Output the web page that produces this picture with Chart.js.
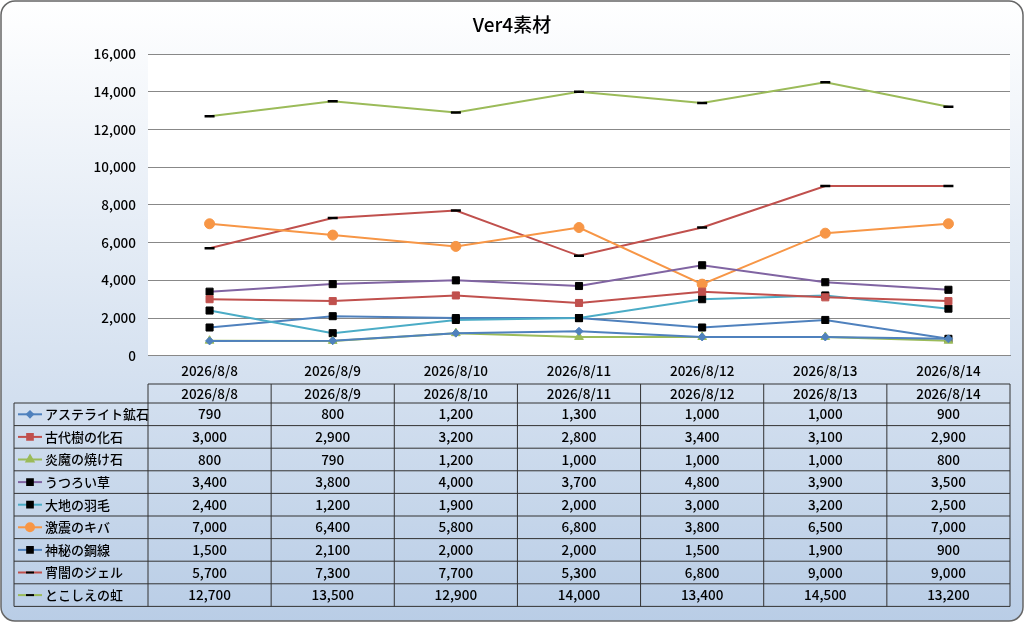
<!DOCTYPE html>
<html><head><meta charset="utf-8">
<script src="https://cdn.jsdelivr.net/npm/chart.js@4/dist/chart.umd.min.js"></script>
<style>body{margin:0;background:#fff}canvas{display:block}</style>
</head><body>
<canvas id="c" width="1024" height="622"></canvas>
<script>
const labels = ['2026/8/8', '2026/8/9', '2026/8/10', '2026/8/11', '2026/8/12', '2026/8/13', '2026/8/14'];
const names = ['アステライト鉱石', '古代樹の化石', '炎魔の焼け石', 'うつろい草', '大地の羽毛', '激震のキバ', '神秘の鋼線', '宵闇のジェル', 'とこしえの虹'];
const astelite = [790, 800, 1200, 1300, 1000, 1000, 900];
const fossil = [3000, 2900, 3200, 2800, 3400, 3100, 2900];
const burnt = [800, 790, 1200, 1000, 1000, 1000, 800];
const utsuroi = [3400, 3800, 4000, 3700, 4800, 3900, 3500];
const feather = [2400, 1200, 1900, 2000, 3000, 3200, 2500];
const fang = [7000, 6400, 5800, 6800, 3800, 6500, 7000];
const wire = [1500, 2100, 2000, 2000, 1500, 1900, 900];
const gel = [5700, 7300, 7700, 5300, 6800, 9000, 9000];
const rainbow = [12700, 13500, 12900, 14000, 13400, 14500, 13200];
const yTicks = [0, 2000, 4000, 6000, 8000, 10000, 12000, 14000, 16000];

const FONT = '"Noto Sans CJK JP", "Noto Sans", sans-serif';
const values = [astelite, fossil, burnt, utsuroi, feather, fang, wire, gel, rainbow];
const styles = [
  { color: '#4f81bd', point: 'rectRot', pc: '#4f81bd', r: 4 },
  { color: '#c0504d', point: 'rect', pc: '#c0504d', r: 5 },
  { color: '#9bbb59', point: 'triangle', pc: '#9bbb59', r: 5 },
  { color: '#8064a2', point: 'rect', pc: '#000', r: 5 },
  { color: '#4bacc6', point: 'rect', pc: '#000', r: 5 },
  { color: '#f79646', point: 'circle', pc: '#f79646', r: 5 },
  { color: '#4f81bd', point: 'rect', pc: '#000', r: 5 },
  { color: '#c0504d', point: 'line', pc: '#000', r: 5 },
  { color: '#9bbb59', point: 'line', pc: '#000', r: 5 }
];

const datasets = names.map((n, i) => ({
  label: n,
  data: values[i],
  borderColor: styles[i].color,
  borderWidth: 2,
  pointStyle: styles[i].point,
  pointRadius: styles[i].r,
  pointBackgroundColor: styles[i].pc,
  pointBorderColor: styles[i].pc,
  pointBorderWidth: styles[i].point === 'line' ? 2.5 : 1,
  tension: 0
}));

const frame = {
  id: 'frame',
  beforeDraw(chart) {
    const ctx = chart.ctx, a = chart.chartArea;
    ctx.save();
    const g = ctx.createLinearGradient(0, 0, 0, 622);
    g.addColorStop(0, '#ffffff');
    g.addColorStop(1, '#b9cde6');
    ctx.beginPath();
    ctx.roundRect(1, 1, 1022, 620, 14);
    ctx.fillStyle = g;
    ctx.fill();
    ctx.strokeStyle = '#666';
    ctx.lineWidth = 1.5;
    ctx.stroke();
    ctx.fillStyle = '#fff';
    ctx.fillRect(a.left, a.top, a.right - a.left, a.bottom - a.top);
    ctx.fillStyle = '#000';
    ctx.font = '500 19px ' + FONT;
    ctx.textAlign = 'center';
    ctx.textBaseline = 'middle';
    ctx.fillText('Ver4素材', 512, 25);
    ctx.restore();
  },
  afterDraw(chart) {
    const ctx = chart.ctx, x = chart.scales.x;
    const left = 14, colL = x.left, right = x.right;
    const colW = (right - colL) / labels.length;
    const headTop = 384, top = 403, rowH = 22.6;
    const bottom = top + rowH * names.length;
    ctx.save();
    ctx.strokeStyle = '#333';
    ctx.lineWidth = 1;
    ctx.beginPath();
    ctx.moveTo(colL, headTop); ctx.lineTo(right, headTop);
    for (let i = 0; i <= names.length; i++) {
      ctx.moveTo(left, top + i * rowH);
      ctx.lineTo(right, top + i * rowH);
    }
    ctx.moveTo(left, top); ctx.lineTo(left, bottom);
    for (let j = 0; j <= labels.length; j++) {
      const cx = colL + j * colW;
      ctx.moveTo(cx, headTop); ctx.lineTo(cx, bottom);
    }
    ctx.stroke();
    ctx.fillStyle = '#000';
    ctx.font = '500 13.5px ' + FONT;
    ctx.textAlign = 'center';
    ctx.textBaseline = 'middle';
    labels.forEach((l, j) => ctx.fillText(l, colL + (j + 0.5) * colW, headTop + 10));
    names.forEach((n, i) => {
      const cy = top + (i + 0.5) * rowH;
      const s = styles[i];
      ctx.strokeStyle = s.color;
      ctx.lineWidth = 2;
      ctx.beginPath(); ctx.moveTo(18, cy); ctx.lineTo(42, cy); ctx.stroke();
      ctx.fillStyle = s.pc; ctx.strokeStyle = s.pc;
      Chart.helpers.drawPoint(ctx, {
        pointStyle: s.point, radius: s.point === 'rectRot' ? 3 : 4, borderWidth: s.point === 'line' ? 2.5 : 1
      }, 30, cy);
      ctx.fillStyle = '#000';
      ctx.textAlign = 'left';
      ctx.font = '500 13px ' + FONT;
      ctx.fillText(n, 45, cy);
      ctx.textAlign = 'center';
      ctx.font = '500 13.5px ' + FONT;
      values[i].forEach((v, j) => ctx.fillText(v.toLocaleString('en-US'), colL + (j + 0.5) * colW, cy));
    });
    ctx.restore();
  }
};

new Chart(document.getElementById('c'), {
  type: 'line',
  data: { labels, datasets },
  plugins: [frame],
  options: {
    responsive: false,
    animation: false,
    layout: { padding: { left: 14, right: 14, top: 54, bottom: 236 } },
    plugins: { legend: { display: false }, tooltip: { enabled: false } },
    scales: {
      x: {
        offset: true,
        grid: { display: false, drawTicks: false },
        border: { color: '#888' },
        ticks: { color: '#000', font: { family: FONT, size: 13.5, weight: '500' }, padding: 7, maxRotation: 0 }
      },
      y: {
        min: 0, max: 16000,
        afterBuildTicks: s => { s.ticks = yTicks.map(v => ({ value: v })); },
        afterFit: s => { s.width = 134; },
        grid: { color: '#888', drawTicks: false },
        border: { display: false },
        ticks: {
          color: '#000', font: { family: FONT, size: 13.5, weight: '500' }, padding: 12,
          callback: v => v.toLocaleString('en-US')
        }
      }
    }
  }
});
</script>
</body></html>
